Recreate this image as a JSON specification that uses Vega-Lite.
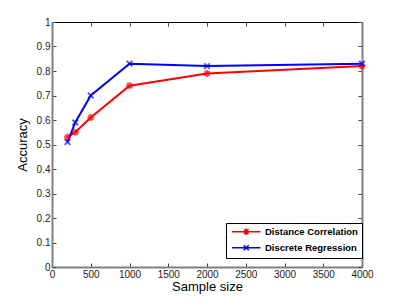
{
  "$schema": "https://vega.github.io/schema/vega-lite/v6.json",
  "width": 310,
  "height": 245,
  "autosize": {"type": "none"},
  "padding": {"left": 52, "top": 22, "right": 37, "bottom": 33},
  "background": "white",
  "config": {
    "font": "Liberation Sans",
    "view": {"stroke": null},
    "axis": {"grid": false, "domain": true, "labelFont": "Liberation Sans", "titleFont": "Liberation Sans", "labelFontSize": 10, "labelColor": "#222", "titleFontWeight": "normal", "titleFontSize": 13, "titleColor": "#000", "tickSize": -4, "tickColor": "#444"}
  },
  "data": {"values": [
    {"n": 200, "acc": 0.53, "method": "Distance Correlation"},
    {"n": 300, "acc": 0.55, "method": "Distance Correlation"},
    {"n": 500, "acc": 0.61, "method": "Distance Correlation"},
    {"n": 1000, "acc": 0.74, "method": "Distance Correlation"},
    {"n": 2000, "acc": 0.79, "method": "Distance Correlation"},
    {"n": 4000, "acc": 0.82, "method": "Distance Correlation"},
    {"n": 200, "acc": 0.51, "method": "Discrete Regression"},
    {"n": 300, "acc": 0.59, "method": "Discrete Regression"},
    {"n": 500, "acc": 0.70, "method": "Discrete Regression"},
    {"n": 1000, "acc": 0.83, "method": "Discrete Regression"},
    {"n": 2000, "acc": 0.82, "method": "Discrete Regression"},
    {"n": 4000, "acc": 0.83, "method": "Discrete Regression"}
  ]},
  "resolve": {"axis": {"x": "independent", "y": "independent"}},
  "layer": [
    {
      "mark": {"type": "line", "strokeWidth": 2},
      "encoding": {
        "x": {"field": "n", "type": "quantitative", "scale": {"domain": [0, 4000], "nice": false}, "title": "Sample size",
          "axis": {"values": [0,500,1000,1500,2000,2500,3000,3500,4000], "format": "d", "domainColor": "#808080", "domainWidth": 2, "labelPadding": 6, "titlePadding": 1, "labelFlush": false}},
        "y": {"field": "acc", "type": "quantitative", "scale": {"domain": [0, 1], "nice": false}, "title": "Accuracy",
          "axis": {"values": [0,0.1,0.2,0.3,0.4,0.5,0.6,0.7,0.8,0.9,1], "format": "~g", "domainColor": "#808080", "domainWidth": 2, "labelPadding": 6, "titlePadding": 7}},
        "color": {"field": "method", "type": "nominal", "sort": ["Distance Correlation", "Discrete Regression"],
          "scale": {"domain": ["Distance Correlation", "Discrete Regression"], "range": ["#ff0000", "#0000ff"]},
          "legend": {
            "title": null, "orient": "none", "legendX": 174, "legendY": 201,
            "strokeColor": "#000", "fillColor": "#fff", "padding": 4,
            "labelFont": "Liberation Sans", "labelFontSize": 9.5, "labelFontWeight": "bold", "labelColor": "#000",
            "symbolSize": 40, "symbolStrokeWidth": 1.6, "symbolOffset": 11.5, "labelOffset": 14, "rowPadding": 3,
            "symbolType": "M-4.5,0H4.5",
            "encode": {"symbols": {"update": {
              "shape": {"signal": "datum.value === 'Distance Correlation' ? 'M-4.5,0H4.5M-1,0H1M0,-1V1M-0.7,-0.7L0.7,0.7M-0.7,0.7L0.7,-0.7' : 'M-4.5,0H4.5M-0.8,-0.8L0.8,0.8M-0.8,0.8L0.8,-0.8'"},
              "fill": {"value": "transparent"}
            }}}
          }}
      }
    },
    {
      "transform": [{"filter": "datum.method === 'Distance Correlation'"}],
      "mark": {"type": "point", "shape": "M-1,0H1M0,-1V1M-0.7,-0.7L0.7,0.7M-0.7,0.7L0.7,-0.7", "size": 50, "strokeWidth": 1.8, "color": "#ff0000", "filled": false},
      "encoding": {
        "x": {"field": "n", "type": "quantitative", "axis": {"orient": "top", "labels": false, "title": null, "domainColor": "#000", "domainWidth": 1, "values": [0,500,1000,1500,2000,2500,3000,3500,4000]}},
        "y": {"field": "acc", "type": "quantitative", "axis": {"orient": "right", "labels": false, "title": null, "domainColor": "#808080", "domainWidth": 2, "values": [0,0.1,0.2,0.3,0.4,0.5,0.6,0.7,0.8,0.9,1]}}
      }
    },
    {
      "transform": [{"filter": "datum.method === 'Discrete Regression'"}],
      "mark": {"type": "point", "shape": "M-0.8,-0.8L0.8,0.8M-0.8,0.8L0.8,-0.8", "size": 50, "strokeWidth": 1.8, "color": "#0000ff", "filled": false},
      "encoding": {
        "x": {"field": "n", "type": "quantitative", "axis": null},
        "y": {"field": "acc", "type": "quantitative", "axis": null}
      }
    }
  ]
}
